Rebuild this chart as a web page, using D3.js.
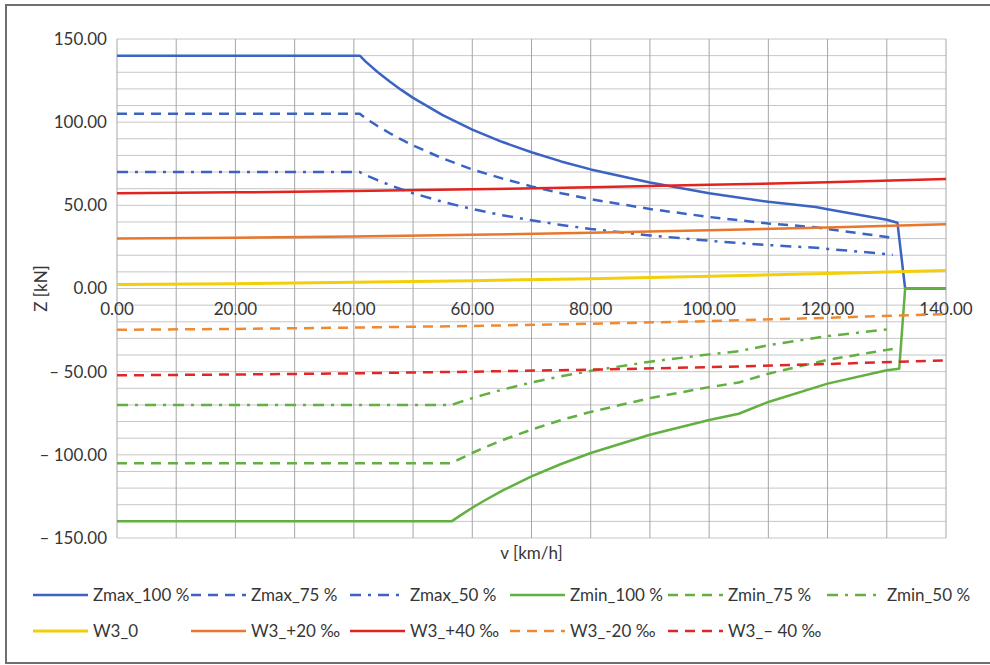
<!DOCTYPE html>
<html lang="en">
<head>
<meta charset="UTF-8">
<script src="https://d3js.org/d3.v7.min.js"></script>
<style>
  body { margin: 0; background: #fff; }
  text { font-family: Lato, "Noto Sans", sans-serif; fill: #363636; }
</style>
<title>Z - v</title>
</head>
<body>
<div id="chart"></div>
<script>
    // series data (speed v in km/h, force Z in kN)
    const vMax100 = [0, 41, 42, 44, 46, 48, 50, 55, 60, 65, 70, 75, 80, 90, 100, 110, 118, 120, 125, 130, 131.8, 133.1, 140]
    const zMax100 = [140, 140, 136.4, 130.2, 124.6, 119.4, 114.6, 104.2, 95.5, 88.2, 81.9, 76.4, 71.6, 63.7, 57.3, 52.1, 49.0, 47.6, 44.5, 41.3, 39.5, 0, 0]
    const vMaxPart = [0, 41, 42, 44, 46, 48, 50, 55, 60, 65, 70, 75, 80, 90, 100, 110, 118, 120, 125, 130, 131]
    const zMax75 = [105, 105, 102.3, 97.7, 93.5, 89.6, 86.0, 78.2, 71.6, 66.2, 61.4, 57.3, 53.7, 47.8, 43.0, 39.1, 36.8, 35.7, 33.4, 31.0, 30.2]
    const zMax50 = [70, 70, 68.2, 65.1, 62.3, 59.7, 57.3, 52.1, 47.8, 44.1, 41.0, 38.2, 35.8, 31.9, 28.7, 26.1, 24.5, 23.8, 22.3, 20.7, 20.2]

    const vMin100 = [0, 56.5, 58, 60, 62, 65, 70, 75, 80, 90, 100, 105, 110, 120, 130, 132.1, 133.1, 140]
    const zMin100 = [-140, -140, -136.4, -131.8, -127.6, -121.7, -113.0, -105.5, -98.9, -87.9, -79.1, -75.3, -68.2, -57.2, -49.2, -48.2, 0, 0]
    const vMinPart = [0, 56.5, 58, 60, 62, 65, 70, 75, 80, 90, 100, 105, 110, 120, 130, 131]
    const zMin75 = [-105, -105, -102.3, -98.9, -95.7, -91.3, -84.8, -79.1, -74.2, -65.9, -59.3, -56.5, -51.2, -42.9, -36.9, -36.4]
    const zMin50 = [-70, -70, -68.2, -65.9, -63.8, -60.9, -56.5, -52.8, -49.5, -44.0, -39.6, -37.7, -34.1, -28.6, -24.6, -24.3]

    const vW3 = [0, 20, 40, 60, 80, 100, 120, 140]
    const w3_0 = [2.4, 2.9, 3.7, 4.7, 5.9, 7.3, 9.0, 10.8]
    const w3_p20 = [30.0, 30.5, 31.3, 32.3, 33.5, 35.0, 36.7, 38.7]
    const w3_p40 = [57.2, 57.8, 58.6, 59.6, 60.8, 62.3, 63.9, 65.8]
    const w3_m20 = [-24.8, -24.3, -23.5, -22.5, -21.2, -19.6, -17.6, -15.4]
    const w3_m40 = [-52.2, -51.7, -51.0, -50.0, -48.8, -47.3, -45.4, -43.2]

    const seriesNames = ["Zmax_100 %", "Zmax_75 %", "Zmax_50 %", "Zmin_100 %", "Zmin_75 %", "Zmin_50 %",
                         "W3_0", "W3_+20 ‰", "W3_+40 ‰", "W3_-20 ‰", "W3_\u2013 40 ‰"]
    const seriesV = [vMax100, vMaxPart, vMaxPart, vMin100, vMinPart, vMinPart, vW3, vW3, vW3, vW3, vW3]
    const seriesZ = [zMax100, zMax75, zMax50, zMin100, zMin75, zMin50, w3_0, w3_p20, w3_p40, w3_m20, w3_m40]

    const xTicks = [0, 20, 40, 60, 80, 100, 120, 140]
    const yTicks = [-150, -100, -50, 0, 50, 100, 150]

    // styles
    const blue = "#3b63c4", green = "#62b041"
    const dash = "10,7", dashDot = "11,7,3,7"
    const styles = [
        {color: blue, dash: null}, {color: blue, dash: dash}, {color: blue, dash: dashDot},
        {color: green, dash: null}, {color: green, dash: dash}, {color: green, dash: dashDot},
        {color: "#f3cf0a", dash: null, w: 3}, {color: "#e8772c", dash: null}, {color: "#e2231f", dash: null},
        {color: "#ee8b32", dash: dash}, {color: "#e02626", dash: dash}
    ]

    const width = 990
    const height = 665

    const svg = d3.select("#chart")
        .append("svg")
        .attr("width", width)
        .attr("height", height)

    // frame
    svg.append("rect")
        .attr("x", 6).attr("y", 5)
        .attr("width", 1000).attr("height", 658)
        .attr("fill", "#fff")
        .attr("stroke", "#6f6f6f")
        .attr("stroke-width", 2)

    const x = d3.scaleLinear().domain([0, 140]).range([117, 946])
    const y = d3.scaleLinear().domain([-150, 150]).range([538, 39])

    // grid
    const grid = svg.append("g")
    grid.selectAll(".hgrid")
        .data(d3.range(-150, 151, 10))
        .join("line")
          .attr("x1", x(0)).attr("x2", x(140))
          .attr("y1", d => y(d)).attr("y2", d => y(d))
          .attr("stroke", "#c6c6c6")
          .attr("stroke-width", 1)
    grid.selectAll(".vgrid")
        .data(d3.range(0, 141, 10))
        .join("line")
          .attr("x1", d => x(d)).attr("x2", d => x(d))
          .attr("y1", y(150)).attr("y2", y(-150))
          .attr("stroke", "#a6a6a6")
          .attr("stroke-width", 1)

    const fmt = d => {
        const s = d3.format(".2f")(Math.abs(d))
        return d < 0 ? "\u2013 " + s : s
    }

    // y tick labels
    svg.append("g")
        .selectAll("text")
        .data(yTicks)
        .join("text")
          .attr("x", 107)
          .attr("y", d => y(d))
          .attr("dy", "0.35em")
          .attr("text-anchor", "end")
          .style("font-size", "17px")
          .text(fmt)

    // x tick labels, sitting under the zero line
    svg.append("g")
        .selectAll("text")
        .data(xTicks)
        .join("text")
          .attr("x", d => x(d))
          .attr("y", y(0) + 21)
          .attr("dy", "0.35em")
          .attr("text-anchor", "middle")
          .style("font-size", "17px")
          .text(fmt)

    // axis titles
    svg.append("text")
        .attr("x", (x(0) + x(140)) / 2)
        .attr("y", 559)
        .attr("text-anchor", "middle")
        .style("font-size", "17px")
        .text("v [km/h]")

    svg.append("text")
        .attr("transform", "translate(47," + y(0) + ") rotate(-90)")
        .attr("text-anchor", "middle")
        .style("font-size", "17px")
        .text("Z [kN]")

    // lines
    const line = d3.line()
        .x(d => x(d[0]))
        .y(d => y(d[1]))

    svg.append("g")
        .selectAll("path")
        .data(seriesNames.map((n, i) => ({name: n, pts: seriesV[i].map((v, j) => [v, seriesZ[i][j]]), st: styles[i]})))
        .join("path")
          .attr("d", d => line(d.pts))
          .attr("fill", "none")
          .attr("stroke", d => d.st.color)
          .attr("stroke-width", d => d.st.w || 2.5)
          .attr("stroke-dasharray", d => d.st.dash)
          .attr("stroke-linejoin", "round")

    // legend
    const legX = [33, 191, 350, 510, 668, 827]
    const legY = [595, 631]
    const legend = svg.append("g")
    seriesNames.forEach((n, i) => {
        const row = i < 6 ? 0 : 1
        const col = i < 6 ? i : i - 6
        const lx = legX[col], ly = legY[row]
        const st = styles[i]
        legend.append("line")
            .attr("x1", lx).attr("x2", lx + 55)
            .attr("y1", ly).attr("y2", ly)
            .attr("stroke", st.color)
            .attr("stroke-width", st.w || 2.5)
            .attr("stroke-dasharray", st.dash)
        legend.append("text")
            .attr("x", lx + 60)
            .attr("y", ly)
            .attr("dy", "0.35em")
            .style("font-size", "17px")
            .text(n)
    })
</script>
</body>
</html>
